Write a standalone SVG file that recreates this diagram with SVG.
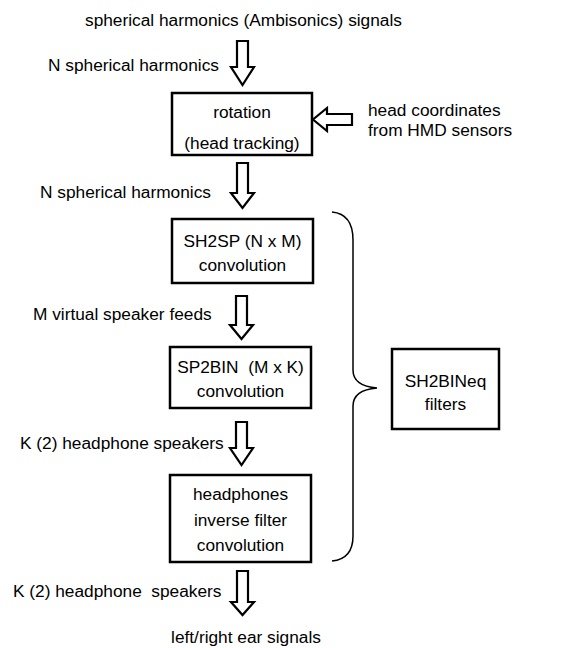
<svg xmlns="http://www.w3.org/2000/svg" width="573" height="648" viewBox="0 0 573 648">
<style>
text{font-family:"Liberation Sans",Arial,sans-serif;font-size:17.3px;fill:#000}
.c{text-anchor:middle}
.box{fill:#fff;stroke:#000;stroke-width:2.5}
.arr{fill:#fff;stroke:#000;stroke-width:2.2;stroke-linejoin:miter}
.brace{fill:none;stroke:#000;stroke-width:1.5}
</style>
<rect width="573" height="648" fill="#fff"/>
<g id="labels">
<text x="85" y="26">spherical harmonics (Ambisonics) signals</text>
<text x="48" y="71">N spherical harmonics</text>
<text x="368" y="116">head coordinates</text>
<text x="368" y="136">from HMD sensors</text>
<text x="40" y="198">N spherical harmonics</text>
<text x="33" y="320">M virtual speaker feeds</text>
<text x="20" y="449">K (2) headphone speakers</text>
<text x="13" y="597" xml:space="preserve">K (2) headphone  speakers</text>
<text x="246" y="643" class="c">left/right ear signals</text>
</g>
<g id="connectors">
<polygon class="arr" points="237,41 248,41 248,67 254,67 242.5,85 231,67 237,67"/>
<polygon class="arr" points="352,114 352,125 327,125 327,131 313,119.5 327,108 327,114"/>
<polygon class="arr" points="237,163 248,163 248,193 254,193 242.5,208 231,193 237,193"/>
<polygon class="arr" points="236,296 247,296 247,325 253,325 241.5,339 230,325 236,325"/>
<polygon class="arr" points="236,422 247,422 247,448 253,448 241.5,465 230,448 236,448"/>
<polygon class="arr" points="237,571 248,571 248,602 254,602 242.5,615 231,602 237,602"/>
<path class="brace" d="M332,212 Q353,214 353,240 L353,370 Q353,386 377,388 Q353,390 353,406 L353,536 Q353,559 332,561"/>
</g>
<g id="rotation">
<rect class="box" x="172" y="93" width="140" height="62"/>
<text x="242" y="118" class="c">rotation</text>
<text x="242" y="149" class="c">(head tracking)</text>
</g>
<g id="sh2sp">
<rect class="box" x="172" y="219" width="141" height="64"/>
<text x="242.5" y="247" class="c">SH2SP (N x M)</text>
<text x="242.5" y="271" class="c">convolution</text>
</g>
<g id="sp2bin">
<rect class="box" x="170" y="347" width="141" height="61"/>
<text x="240.5" y="373" class="c" xml:space="preserve">SP2BIN  (M x K)</text>
<text x="240.5" y="397" class="c">convolution</text>
</g>
<g id="hpinv">
<rect class="box" x="170" y="475" width="141" height="87"/>
<text x="240.5" y="500" class="c">headphones</text>
<text x="240.5" y="526" class="c">inverse filter</text>
<text x="240.5" y="551" class="c">convolution</text>
</g>
<g id="sh2bineq">
<rect class="box" x="392" y="349" width="107" height="80"/>
<text x="445.5" y="387" class="c">SH2BINeq</text>
<text x="445.5" y="410" class="c">filters</text>
</g>
</svg>
